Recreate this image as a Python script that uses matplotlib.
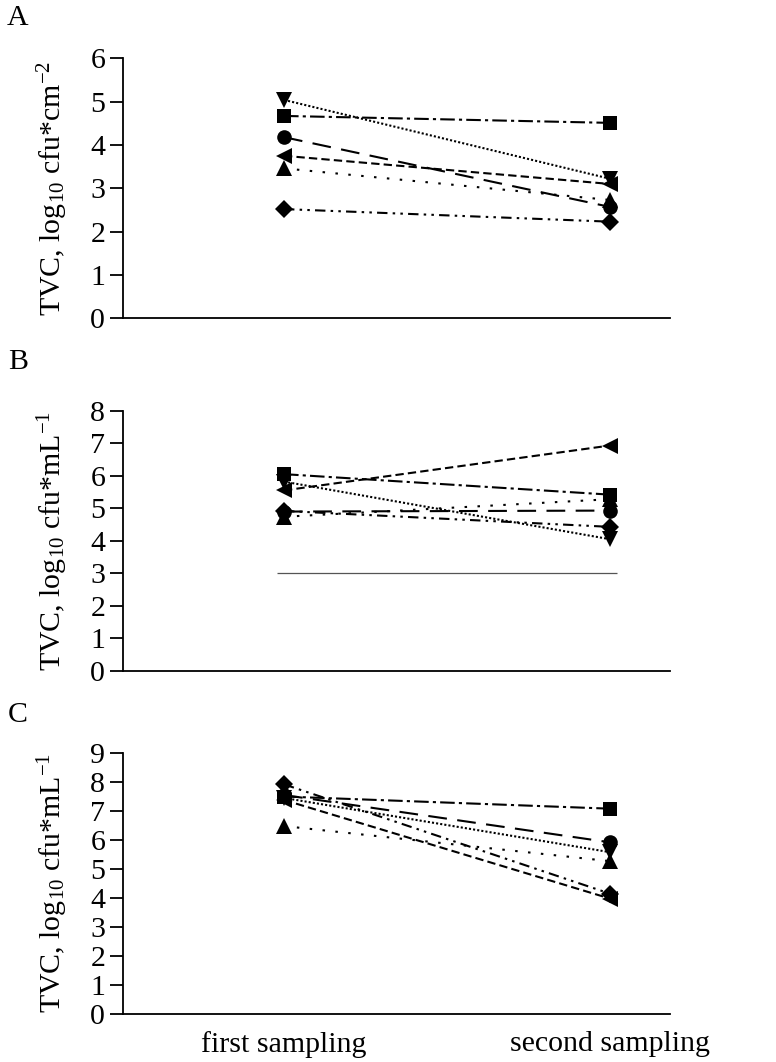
import matplotlib
matplotlib.use("Agg")
import matplotlib.pyplot as plt
import matplotlib.transforms as mtransforms

plt.rcParams['font.family'] = ['Liberation Serif', 'DejaVu Serif']
plt.rcParams['mathtext.fontset'] = 'custom'
plt.rcParams['mathtext.rm'] = 'Liberation Serif'
plt.rcParams['mathtext.it'] = 'Liberation Serif:italic'

samplings = ["first sampling", "second sampling"]

# series order: square, down-triangle, circle, left-triangle, up-triangle, diamond
series_markers = ['s', 'v', 'o', '<', '^', 'D']

panel_A = {
    's': [4.67, 4.51],
    'v': [5.04, 3.22],
    'o': [4.18, 2.57],
    '<': [3.75, 3.10],
    '^': [3.46, 2.73],
    'D': [2.52, 2.23],
}
panel_B = {
    's': [6.05, 5.42],
    'v': [5.82, 4.05],
    'o': [4.90, 4.93],
    '<': [5.55, 6.93],
    '^': [4.74, 5.28],
    'D': [4.92, 4.43],
}
panel_C = {
    's': [7.50, 7.08],
    'v': [7.45, 5.58],
    'o': [7.55, 5.92],
    '<': [7.38, 3.98],
    '^': [6.48, 5.27],
    'D': [7.92, 4.15],
}
detection_limit_B = 3.0

panel_letters = ["A", "B", "C"]
ylabels = [r'TVC, log$_{\mathregular{10}}$ cfu*cm$^{\mathregular{-2}}$',
           r'TVC, log$_{\mathregular{10}}$ cfu*mL$^{\mathregular{-1}}$',
           r'TVC, log$_{\mathregular{10}}$ cfu*mL$^{\mathregular{-1}}$']
ymax = [6, 8, 9]

dash_styles = {
    's': (0, (7, 2, 1.5, 2)),
    'v': (0, (1, 1)),
    'o': (0, (9, 5)),
    '<': (0, (4, 2)),
    '^': (0, (1.2, 5)),
    'D': (0, (5, 2.5, 1.2, 2.5, 1.2, 2.5)),
}
marker_sizes = {'s': 9.5, 'v': 11, 'o': 10.5, '<': 11, '^': 11, 'D': 9}
draw_order = ['D', '^', '<', 'o', 'v', 's']

W, H = 776, 1062
fig = plt.figure(figsize=(W / 100, H / 100), dpi=100)

# axes boxes in pixels: left, right, top, bottom
boxes = [(122.5, 670, 58.3, 318.3), (122.5, 670, 410.7, 671), (122.5, 670, 753, 1014)]
x_first, x_second = 284, 610
unit = (x_second - x_first)

FS = 21.5
data = [panel_A, panel_B, panel_C]
for i, (d, box) in enumerate(zip(data, boxes)):
    l, r, t, b = box
    ax = fig.add_axes([l / W, 1 - b / H, (r - l) / W, (b - t) / H])
    xs = list(range(len(samplings)))
    for m in draw_order:
        ax.plot(xs, d[m], color='black', linestyle=dash_styles[m], lw=1.5,
                marker=m, markersize=marker_sizes[m], markeredgewidth=0)
    if i == 1:
        ax.hlines(detection_limit_B, -0.02, 1.02, color='#555555', lw=0.9)
    ax.set_xlim((l - x_first) / unit, (r - x_first) / unit)
    ax.set_ylim(0, ymax[i])
    ax.set_yticks(range(0, ymax[i] + 1))
    ax.spines['top'].set_visible(False)
    ax.spines['right'].set_visible(False)
    for s in ['left', 'bottom']:
        ax.spines[s].set_linewidth(1.3)
    ax.tick_params(axis='y', direction='out', length=9.5, width=1.3, labelsize=FS, pad=3)
    ax.set_xticks(xs)
    if i == 2:
        ax.set_xticklabels(samplings, fontsize=FS)
        ax.tick_params(axis='x', length=0, pad=12)
    else:
        ax.set_xticklabels([])
        ax.tick_params(axis='x', length=0)
    ax.set_ylabel(ylabels[i], fontsize=FS)
    tr = mtransforms.blended_transform_factory(fig.transFigure, ax.transAxes)
    ax.yaxis.set_label_coords(70 / W, 0.5, transform=tr)

letter_y = [18, 362, 715]
for letter, y in zip(panel_letters, letter_y):
    fig.text(18 / W, 1 - y / H, letter, fontsize=FS, ha='center', va='center')

fig.savefig("out.png", dpi=100)
